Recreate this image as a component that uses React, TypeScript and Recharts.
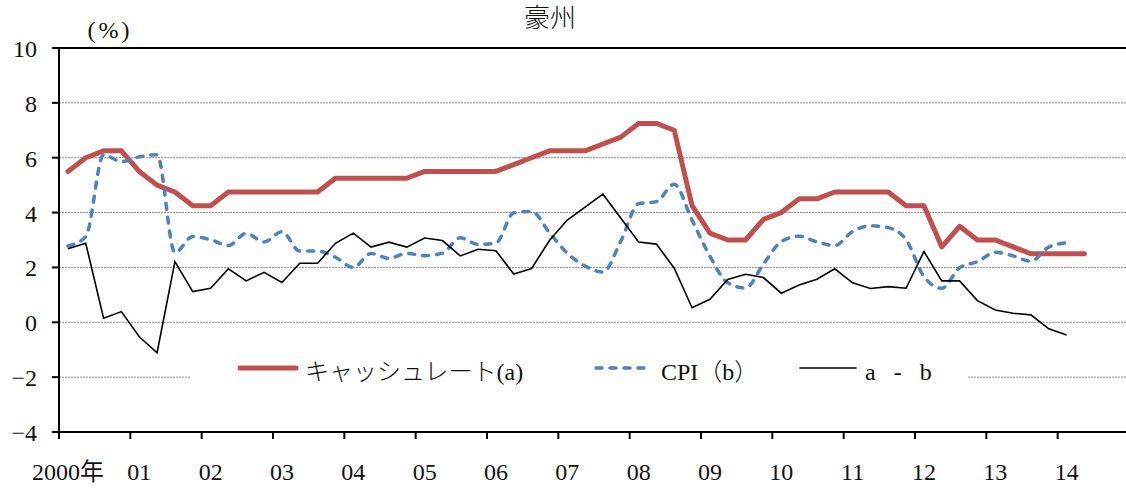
import React from 'react';
import { LineChart, Line, XAxis, YAxis, CartesianGrid, ReferenceLine, Legend } from 'recharts';

// ---- data (quarterly, 2000Q1 .. 2014Q4) ----
const quarterCount = 60;
const yearLabels = ['2000年', '01', '02', '03', '04', '05', '06', '07', '08', '09', '10', '11', '12', '13', '14'];
const yTicks = [-4, -2, 0, 2, 4, 6, 8, 10];

// キャッシュレート (a)
const cashRate = [
  5.5, 6.0, 6.25, 6.25, 5.5, 5.0, 4.75, 4.25, 4.25, 4.75,
  4.75, 4.75, 4.75, 4.75, 4.75, 5.25, 5.25, 5.25, 5.25, 5.25,
  5.5, 5.5, 5.5, 5.5, 5.5, 5.75, 6.0, 6.25, 6.25, 6.25,
  6.5, 6.75, 7.25, 7.25, 7.0, 4.25, 3.25, 3.0, 3.0, 3.75,
  4.0, 4.5, 4.5, 4.75, 4.75, 4.75, 4.75, 4.25, 4.25, 2.75,
  3.5, 3.0, 3.0, 2.75, 2.5, 2.5, 2.5, 2.5,
];

// CPI (b)
const cpi = [
  2.78, 3.12, 6.1, 5.86, 6.03, 6.11, 2.54, 3.13, 3.01, 2.8,
  3.24, 2.93, 3.3, 2.6, 2.6, 2.37, 2.0, 2.51, 2.33, 2.51,
  2.43, 2.52, 3.08, 2.84, 2.89, 3.99, 4.04, 3.27, 2.52, 2.05,
  1.83, 2.95, 4.32, 4.4, 5.03, 3.72, 2.41, 1.44, 1.25, 2.12,
  2.94, 3.14, 2.93, 2.8, 3.31, 3.52, 3.45, 3.01, 1.67, 1.24,
  1.99, 2.21, 2.55, 2.42, 2.23, 2.74, 2.9,
];

// a - b
const spread = [
  2.68, 2.88, 0.15, 0.39, -0.53, -1.11, 2.21, 1.12, 1.24, 1.95,
  1.51, 1.82, 1.45, 2.15, 2.15, 2.88, 3.25, 2.74, 2.92, 2.74,
  3.07, 2.98, 2.42, 2.66, 2.61, 1.76, 1.96, 2.98, 3.73, 4.2,
  4.67, 3.8, 2.93, 2.85, 1.97, 0.53, 0.84, 1.56, 1.75, 1.63,
  1.06, 1.36, 1.57, 1.95, 1.44, 1.23, 1.3, 1.24, 2.58, 1.51,
  1.51, 0.79, 0.45, 0.33, 0.27, -0.24, -0.46,
];

const seriesNames = ['キャッシュレート(a)', 'CPI（b）', 'a   -   b'];

const data = Array.from({ length: quarterCount }, (_, i) => ({
  q: i + 0.5,
  cash: cashRate[i],
  cpi: cpi[i],
  spread: spread[i],
}));

const xTicks = yearLabels.map((_, k) => k * 4);

const FONT = "'Liberation Serif', 'Noto Sans CJK JP', serif";
const RED = '#C0504D';
const BLUE = '#4F81BD';

const XTick = (props: any) => {
  const { x, y, payload } = props;
  const label = yearLabels[Math.round(payload.value / 4)];
  return (
    <text x={x + 9} y={y} dy={41} textAnchor="middle" fontSize={24} fill="#111" style={{ fontFamily: FONT }}>
      {label}
    </text>
  );
};

const YTick = (props: any) => {
  const { x, y, payload } = props;
  const v = payload.value as number;
  const label = v < 0 ? '−' + Math.abs(v) : String(v);
  return (
    <text x={x} y={y} dy={9} textAnchor="end" fontSize={24} fill="#111" style={{ fontFamily: FONT }}>
      {label}
    </text>
  );
};

const legendItems = [
  { name: seriesNames[0], color: RED, width: 5, dash: undefined as string | undefined, left: 47 },
  { name: seriesNames[1], color: BLUE, width: 3.5, dash: '6 8' as string | undefined, left: 403 },
  { name: seriesNames[2], color: '#000', width: 1.6, dash: undefined as string | undefined, left: 607 },
];

const LegendContent = () => (
  <div style={{ position: 'relative', width: 777, height: 46, background: '#fff' }}>
    {legendItems.map((it) => (
      <div key={it.name} style={{ position: 'absolute', left: it.left, top: 0, height: 46, display: 'flex', alignItems: 'center' }}>
        <svg width={62} height={12} style={{ display: 'block' }}>
          <line x1={3} y1={6} x2={59} y2={6} stroke={it.color} strokeWidth={it.width}
            strokeDasharray={it.dash} strokeLinecap="round" />
        </svg>
        <span style={{ marginLeft: 6, fontSize: 24, fontFamily: FONT, fontWeight: 300, color: '#111', whiteSpace: 'pre', lineHeight: '46px', position: 'relative', top: 4 }}>
          {it.name}
        </span>
      </div>
    ))}
  </div>
);

export default function App() {
  return (
    <div style={{ position: 'absolute', left: 0, top: 0, width: 1126, height: 488, background: '#fff', overflow: 'hidden', fontFamily: FONT }}>
      <div style={{ position: 'absolute', left: 450, width: 200, top: 3, textAlign: 'center', fontSize: 26, fontWeight: 300, lineHeight: '32px', color: '#111', fontFamily: FONT }}>
        豪州
      </div>
      <div style={{ position: 'absolute', left: 80, width: 60, top: 14, textAlign: 'center', fontSize: 24, lineHeight: '32px', color: '#111', letterSpacing: 3, fontFamily: FONT }}>
        (%)
      </div>
      <LineChart
        width={1126}
        height={488}
        data={data}
        margin={{ top: 48, right: -3, bottom: 0, left: 0 }}
        style={{ position: 'absolute', left: 0, top: 0 }}
      >
        <CartesianGrid vertical={false} stroke="#8a8a8a" strokeDasharray="2 1" strokeWidth={1} />
        <XAxis
          dataKey="q"
          type="number"
          domain={[0, quarterCount]}
          ticks={xTicks}
          interval={0}
          height={56}
          tickSize={7}
          tickMargin={0}
          axisLine={{ stroke: '#000', strokeWidth: 2 }}
          tickLine={{ stroke: '#000', strokeWidth: 2 }}
          tick={<XTick />}
          allowDataOverflow
        />
        <YAxis
          type="number"
          domain={[-4, 10]}
          ticks={yTicks}
          interval={0}
          width={59}
          tickSize={7}
          tickMargin={15}
          axisLine={{ stroke: '#000', strokeWidth: 2 }}
          tickLine={{ stroke: '#000', strokeWidth: 2 }}
          tick={<YTick />}
        />
        <ReferenceLine y={10} stroke="#000" strokeWidth={2} />
        <Legend
          layout="horizontal"
          align="center"
          verticalAlign="middle"
          content={<LegendContent />}
          wrapperStyle={{ position: 'absolute', left: 190, top: 345, width: 777, height: 46 }}
        />
        <Line
          name={seriesNames[0]}
          type="linear"
          dataKey="cash"
          stroke={RED}
          strokeWidth={5}
          dot={false}
          strokeLinejoin="round"
          strokeLinecap="round"
          isAnimationActive={false}
        />
        <Line
          name={seriesNames[1]}
          type="monotone"
          dataKey="cpi"
          stroke={BLUE}
          strokeWidth={3.5}
          strokeDasharray="6 8"
          strokeLinecap="round"
          dot={false}
          isAnimationActive={false}
        />
        <Line
          name={seriesNames[2]}
          type="linear"
          dataKey="spread"
          stroke="#000"
          strokeWidth={1.6}
          dot={false}
          isAnimationActive={false}
        />
      </LineChart>
    </div>
  );
}
